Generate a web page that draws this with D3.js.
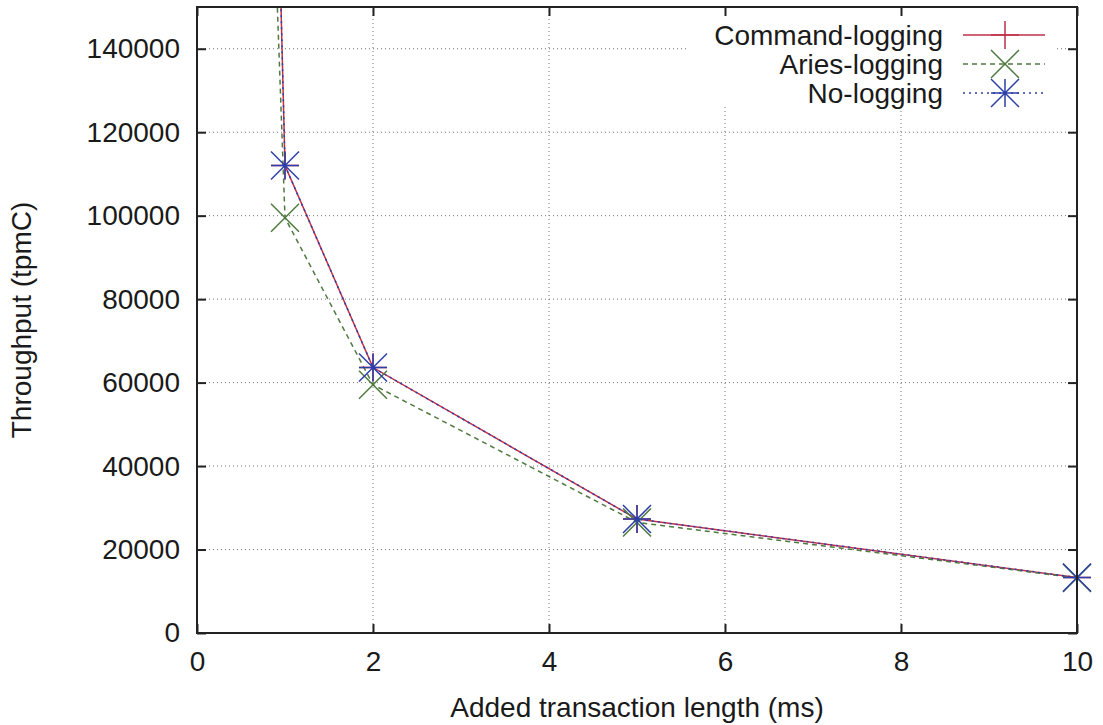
<!DOCTYPE html>
<html>
<head>
<meta charset="utf-8">
<script src="https://cdn.jsdelivr.net/npm/d3@7"></script>
<style>
  body { margin: 0; background: #fff; }
  text { font-family: "Liberation Sans", Arial, Helvetica, sans-serif; fill: #1a1a1a; }
</style>
</head>
<body>
<svg id="chart" width="1103" height="725"></svg>
<script>
// values
var xValues = [0, 1, 2, 5, 10];
var commandLogging = [950000, 112000, 63600, 27300, 13300];
var ariesLogging = [680000, 99500, 59500, 26500, 13200];
var noLogging = [950000, 112000, 63600, 27300, 13300];
var seriesNames = ["Command-logging", "Aries-logging", "No-logging"];
var xTicks = [0, 2, 4, 6, 8, 10];
var yTicks = [0, 20000, 40000, 60000, 80000, 100000, 120000, 140000];

var svg = d3.select("#chart"),
    margin = {top: 7, right: 26, bottom: 92, left: 197},
    width = svg.attr("width") - margin.left - margin.right,
    height = svg.attr("height") - margin.top - margin.bottom;

var x = d3.scaleLinear().domain([0, 10]).range([0, width]),
    y = d3.scaleLinear().domain([0, 150000]).range([height, 0]);

var colors = ["#c0304a", "#4f7a3f", "#2c3fa8"],
    dashes = [null, "5,4", "2,4"],
    markers = ["M-14,0H14M0,-14V14",
               "M-14,-14L14,14M-14,14L14,-14",
               "M-14,0H14M0,-14V14M-14,-14L14,14M-14,14L14,-14"];

var series = [commandLogging, ariesLogging, noLogging].map(function(vals, i) {
  return {name: seriesNames[i], values: vals.map(function(v, j) { return {x: xValues[j], y: v}; })};
});

var g = svg.append("g")
    .attr("transform", "translate(" + margin.left + "," + margin.top + ")");

svg.append("defs").append("clipPath").attr("id", "plot-clip")
  .append("rect").attr("width", width).attr("height", height);

// dotted grid
g.selectAll(".gridx")
  .data(xTicks.filter(function(d) { return d > 0 && d < 10; }))
  .enter().append("line")
    .attr("x1", x).attr("x2", x)
    .attr("y1", 0).attr("y2", height)
    .attr("stroke", "#777").attr("stroke-width", 1).attr("stroke-dasharray", "1,3");

g.selectAll(".gridy")
  .data(yTicks.filter(function(d) { return d > 0; }))
  .enter().append("line")
    .attr("x1", 0).attr("x2", width)
    .attr("y1", y).attr("y2", y)
    .attr("stroke", "#777").attr("stroke-width", 1).attr("stroke-dasharray", "1,3");

var line = d3.line()
    .x(function(d) { return x(d.x); })
    .y(function(d) { return y(d.y); });

var plot = g.append("g").attr("clip-path", "url(#plot-clip)");

series.forEach(function(s, i) {
  plot.append("path")
      .attr("d", line(s.values))
      .attr("fill", "none")
      .attr("stroke", colors[i])
      .attr("stroke-width", 1.5)
      .attr("stroke-dasharray", dashes[i]);
});

// markers are not clipped, only the ones inside the y range are drawn
series.forEach(function(s, i) {
  g.selectAll(".pt" + i)
    .data(s.values.filter(function(d) { return d.y <= y.domain()[1]; }))
    .enter().append("path")
      .attr("transform", function(d) { return "translate(" + x(d.x) + "," + y(d.y) + ")"; })
      .attr("d", markers[i])
      .attr("fill", "none")
      .attr("stroke", colors[i])
      .attr("stroke-width", 1.5);
});

// legend with white box
var legend = g.append("g");
legend.append("rect")
    .attr("x", 490).attr("y", 1)
    .attr("width", 370).attr("height", 99)
    .attr("fill", "#fff");

seriesNames.forEach(function(name, i) {
  var ly = 28 + i * 29;
  legend.append("text")
      .attr("x", 746).attr("y", ly)
      .attr("dy", "0.35em")
      .style("font-size", "28px")
      .style("text-anchor", "end")
      .text(name);
  legend.append("line")
      .attr("x1", 766).attr("x2", 848)
      .attr("y1", ly).attr("y2", ly)
      .attr("stroke", colors[i]).attr("stroke-width", 1.5)
      .attr("stroke-dasharray", dashes[i]);
  legend.append("path")
      .attr("transform", "translate(808," + ly + ")")
      .attr("d", markers[i])
      .attr("fill", "none")
      .attr("stroke", colors[i]).attr("stroke-width", 1.5);
});

// axes, ticks on all four sides pointing in
g.append("g")
    .attr("transform", "translate(0," + height + ")")
    .call(d3.axisBottom(x).tickValues(xTicks).tickSizeInner(-9).tickSizeOuter(0).tickPadding(18))
    .call(function(a) { a.select(".domain").remove(); });

g.append("g")
    .call(d3.axisLeft(y).tickValues(yTicks).tickFormat(d3.format("d")).tickSizeInner(-9).tickSizeOuter(0).tickPadding(17))
    .call(function(a) { a.select(".domain").remove(); });

g.append("g")
    .call(d3.axisTop(x).tickValues(xTicks).tickSizeInner(-9).tickSizeOuter(0).tickFormat(""))
    .call(function(a) { a.select(".domain").remove(); });

g.append("g")
    .attr("transform", "translate(" + width + ",0)")
    .call(d3.axisRight(y).tickValues(yTicks).tickSizeInner(-9).tickSizeOuter(0).tickFormat(""))
    .call(function(a) { a.select(".domain").remove(); });

g.selectAll(".tick line").attr("stroke", "#222").attr("stroke-width", 2);
g.selectAll(".tick text")
    .style("font-size", "28px")
    .style("font-family", "'Liberation Sans', Arial, sans-serif")
    .attr("fill", "#1a1a1a");

g.append("rect")
    .attr("width", width).attr("height", height)
    .attr("fill", "none")
    .attr("stroke", "#222").attr("stroke-width", 2);

svg.append("text")
    .attr("x", margin.left + width / 2)
    .attr("y", 717)
    .style("font-size", "28px")
    .style("text-anchor", "middle")
    .text("Added transaction length (ms)");

svg.append("text")
    .attr("transform", "translate(" + 31 + "," + (margin.top + height / 2) + ") rotate(-90)")
    .style("font-size", "28px")
    .style("text-anchor", "middle")
    .text("Throughput (tpmC)");
</script>
</body>
</html>
